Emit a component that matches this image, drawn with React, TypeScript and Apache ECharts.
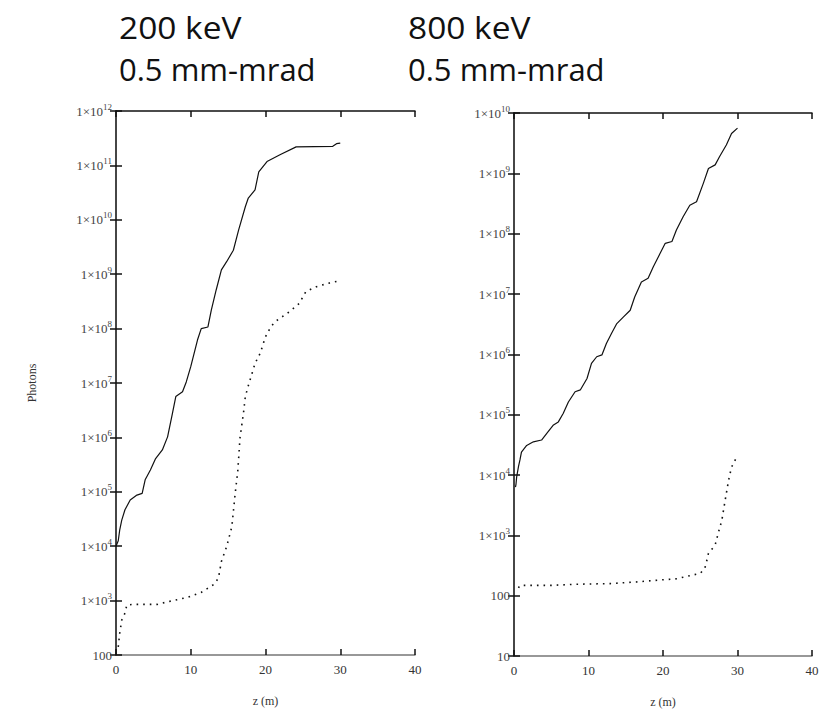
import React, { useEffect, useRef } from "react";
import * as echarts from "echarts";

// 200 keV, 0.5 mm-mrad  (z in m, photons)
const leftSolidZ = [0, 0.3, 0.5, 0.77, 1.2, 1.9, 2.8, 3.5, 3.9, 4.6, 5.3, 6.2, 6.9, 7.55, 8.0, 8.9, 9.4, 10.0, 10.9, 11.4, 12.3, 12.75, 13.4, 14.1, 14.8, 15.7, 16.4, 17.3, 17.7, 18.6, 19.1, 20.2, 22.0, 24.1, 29.0, 29.5, 30.0];
const leftSolidLog = [4.0, 4.1, 4.3, 4.48, 4.67, 4.85, 4.94, 4.97, 5.22, 5.4, 5.61, 5.77, 6.01, 6.44, 6.75, 6.84, 7.02, 7.3, 7.79, 8.0, 8.03, 8.34, 8.71, 9.08, 9.23, 9.44, 9.81, 10.24, 10.4, 10.55, 10.88, 11.07, 11.2, 11.34, 11.35, 11.4, 11.41];
const leftDotZ = [0.3, 0.5, 0.77, 1.2, 1.45, 2.3, 5.5, 7.3, 9.6, 11.4, 13.0, 13.7, 14.1, 14.8, 15.5, 15.9, 16.3, 16.6, 17.05, 17.3, 17.7, 18.6, 19.3, 20.0, 20.7, 21.3, 23.2, 24.5, 25.4, 26.8, 28.6, 30.0];
const leftDotLog = [2.15, 2.4, 2.64, 2.77, 2.92, 2.93, 2.93, 2.99, 3.06, 3.15, 3.29, 3.41, 3.72, 3.99, 4.36, 4.91, 5.4, 6.01, 6.44, 6.75, 6.95, 7.36, 7.55, 7.85, 8.03, 8.13, 8.31, 8.46, 8.68, 8.77, 8.84, 8.88];

// 800 keV, 0.5 mm-mrad
const rightSolidZ = [0.2, 0.27, 0.36, 0.6, 0.8, 1.0, 1.7, 2.6, 3.7, 4.4, 5.3, 5.95, 6.6, 7.3, 8.2, 8.9, 9.8, 10.4, 11.1, 11.8, 12.4, 13.1, 13.8, 14.7, 15.6, 16.2, 17.1, 18.0, 18.7, 19.6, 20.3, 21.2, 21.8, 22.7, 23.6, 24.5, 25.4, 26.1, 27.0, 27.6, 28.5, 29.2, 30.0];
const rightSolidLog = [3.8, 3.85, 3.97, 4.14, 4.25, 4.38, 4.49, 4.55, 4.58, 4.69, 4.83, 4.88, 5.02, 5.21, 5.38, 5.41, 5.6, 5.85, 5.96, 5.99, 6.18, 6.35, 6.51, 6.62, 6.73, 6.95, 7.2, 7.26, 7.45, 7.67, 7.84, 7.87, 8.06, 8.28, 8.47, 8.53, 8.83, 9.08, 9.14, 9.28, 9.47, 9.66, 9.75];
const rightDotZ = [0.6, 0.8, 2.0, 5.0, 8.4, 12.9, 16.7, 19.6, 21.8, 25.0, 25.6, 25.9, 26.1, 27.0, 27.4, 27.9, 28.3, 28.8, 29.2, 29.9];
const rightDotLog = [2.13, 2.17, 2.17, 2.17, 2.19, 2.2, 2.23, 2.26, 2.28, 2.37, 2.45, 2.59, 2.7, 2.84, 3.03, 3.25, 3.55, 3.91, 4.13, 4.3];

const titles = [["200 keV", "0.5 mm-mrad"], ["800 keV", "0.5 mm-mrad"]];
const yLabel = "Photons";
const xLabel = "z (m)";

const toPairs = (zs: number[], logs: number[]) => zs.map((z, i) => [z, Math.pow(10, logs[i])]);

const SERIF = "Liberation Serif";

const fmtY = (v: number) => {
  const e = Math.round(Math.log10(v));
  if (e <= 2) return `{a|${Math.round(v)}}`;
  return `{a|1×10}{b|${e}}`;
};

const richY = {
  a: { fontFamily: SERIF, fontSize: 13, color: "#444" },
  b: { fontFamily: SERIF, fontSize: 9, color: "#444", padding: [0, 0, 9, 0] },
};

export default function App() {
  const ref = useRef<HTMLDivElement>(null);
  useEffect(() => {
    if (!ref.current) return;
    const chart = echarts.init(ref.current, undefined, { renderer: "svg" });
    const grids = [
      { left: 116, top: 111, width: 299, height: 544 },
      { left: 514, top: 113, width: 298, height: 543 },
    ];
    const yRanges = [
      [100, 1e12],
      [10, 1e10],
    ];
    const xAxis: any[] = [];
    const yAxis: any[] = [];
    grids.forEach((g, i) => {
      xAxis.push({
        type: "value", gridIndex: i, min: 0, max: 40, interval: 10, position: "bottom",
        axisLine: { lineStyle: { color: "#777", width: 1.5 } },
        axisTick: { inside: true, length: 6, lineStyle: { color: "#111", width: 1.5 } },
        axisLabel: { fontFamily: SERIF, fontSize: 13, color: "#333", margin: 8 },
        splitLine: { show: false },
        name: xLabel, nameLocation: "middle", nameGap: 40,
        nameTextStyle: { fontFamily: SERIF, fontSize: 12, color: "#333" },
      });
      xAxis.push({
        type: "value", gridIndex: i, min: 0, max: 40, interval: 10, position: "top",
        axisLine: { lineStyle: { color: "#111", width: 1.5 } },
        axisTick: { inside: true, length: 6, lineStyle: { color: "#111", width: 1.5 } },
        axisLabel: { show: false }, splitLine: { show: false },
      });
      yAxis.push({
        type: "log", logBase: 10, gridIndex: i, min: yRanges[i][0], max: yRanges[i][1], interval: 1,
        position: "left",
        axisLine: { show: true, lineStyle: { color: "#999", width: 1.5 } },
        axisTick: { show: true, inside: true, length: 6, lineStyle: { color: "#111", width: 1.5 } },
        axisLabel: { formatter: fmtY, rich: richY, margin: 4 },
        splitLine: { show: false },
        ...(i === 0
          ? {
              name: yLabel, nameLocation: "middle", nameGap: 78, nameRotate: 90,
              nameTextStyle: { fontFamily: SERIF, fontSize: 12, color: "#333" },
            }
          : {}),
      });
      yAxis.push({
        type: "log", logBase: 10, gridIndex: i, min: yRanges[i][0], max: yRanges[i][1], interval: 1,
        position: "right",
        axisLine: { show: true, lineStyle: { color: "#222", width: 1.5 } },
        axisTick: { show: true, inside: true, length: 6, lineStyle: { color: "#111", width: 1.5 } },
        axisLabel: { show: false }, splitLine: { show: false },
      });
    });
    const lineBase = { type: "line", showSymbol: false, symbol: "none", silent: true };
    const series: any[] = [
      { ...lineBase, xAxisIndex: 0, yAxisIndex: 0, data: toPairs(leftSolidZ, leftSolidLog), lineStyle: { color: "#111", width: 1.2 } },
      { ...lineBase, xAxisIndex: 0, yAxisIndex: 0, data: toPairs(leftDotZ, leftDotLog), lineStyle: { color: "#111", width: 1.6, type: [1.6, 5] } },
      { ...lineBase, xAxisIndex: 2, yAxisIndex: 2, data: toPairs(rightSolidZ, rightSolidLog), lineStyle: { color: "#111", width: 1.2 } },
      { ...lineBase, xAxisIndex: 2, yAxisIndex: 2, data: toPairs(rightDotZ, rightDotLog), lineStyle: { color: "#111", width: 1.6, type: [1.6, 5] } },
    ];
    const titleFont = "Open Sans";
    const graphic: any[] = [];
    [119, 408].forEach((x, i) => {
      graphic.push({ type: "text", x, y: 11, scaleX: 1.08, style: { text: titles[i][0], fontFamily: titleFont, fontSize: 31, fill: "#111" } });
      graphic.push({ type: "text", x, y: 53, style: { text: titles[i][1], fontFamily: titleFont, fontSize: 31, fill: "#111" } });
    });
    chart.setOption({
      animation: false,
      backgroundColor: "#fff",
      grid: grids.map((g) => ({ ...g, containLabel: false })),
      xAxis,
      yAxis,
      series,
      graphic,
    });
    return () => chart.dispose();
  }, []);
  return <div ref={ref} style={{ width: 836, height: 713, position: "absolute", left: 0, top: 0 }} />;
}
